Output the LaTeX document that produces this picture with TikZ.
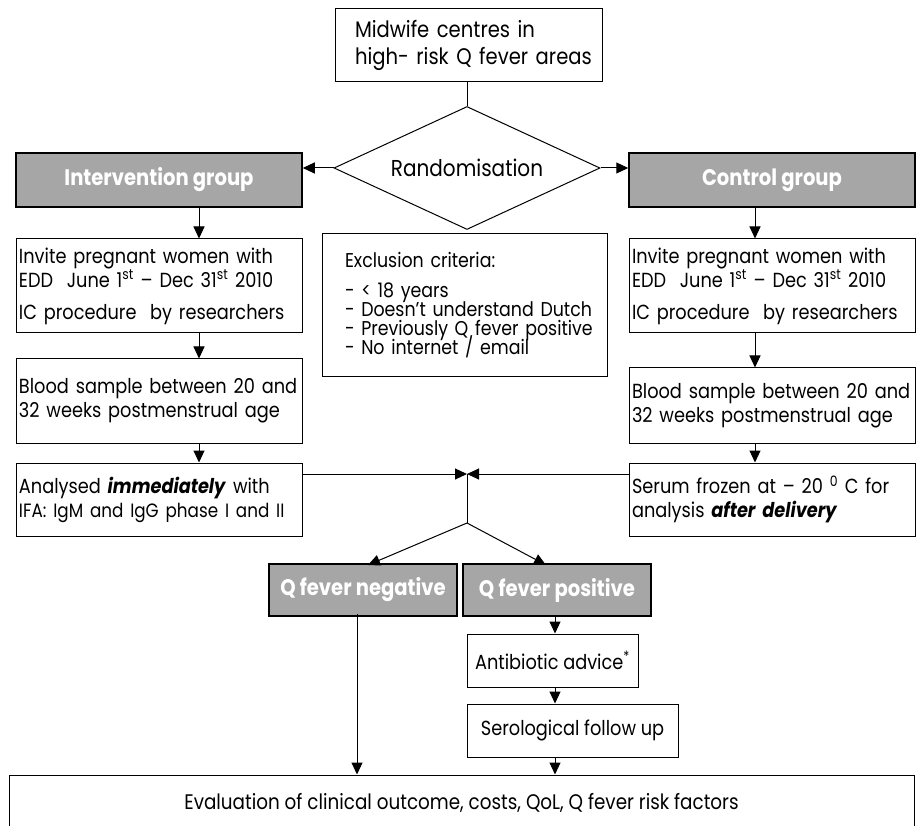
\documentclass[tikz,border=0pt]{standalone}
\usepackage{fontspec}
\setmainfont{Poppins}[FakeStretch=0.87]
\usetikzlibrary{shapes.geometric,arrows.meta}
\definecolor{boxgrey}{HTML}{A6A6A6}
\tikzset{
  box/.style = {draw, line width=1pt, rectangle, inner xsep=3pt, inner ysep=3pt,
                align=left, font=\fontsize{20.4}{24}\selectfont},
  greybox/.style = {draw, line width=1.5pt, fill=boxgrey, text=white, align=center,
                font=\fontsize{22.5}{24}\selectfont\bfseries},
  arr/.style = {line width=1pt, -{Triangle[length=12pt,width=11pt]}}
}
\begin{document}
\setlength{\lineskiplimit}{-20pt}
\setlength{\normallineskiplimit}{-20pt}
\begin{tikzpicture}[x=1pt,y=-1pt]
        \useasboundingbox (0,0) rectangle (916,826);
        %Top
        \node[box, minimum width=267, minimum height=73, text width=255, inner xsep=6,
              font=\fontsize{22.5}{27}\selectfont] (centres) at (468.5,45.5)
        {\hspace*{14pt}Midwife centres in\\\hspace*{14pt}high- risk Q fever areas};
        \node[draw, line width=1pt, diamond, aspect=2.16, minimum width=266,
              minimum height=123, inner sep=0pt, font=\fontsize{23}{26}\selectfont]
              (rand) at (467,168) {Randomisation};
        \draw[line width=1pt] (centres.south -| rand.north) -- (rand.north);
        %Groups
        \node[greybox, minimum width=286, minimum height=54] (inter) at (159,180)
        {Intervention group};
        \node[greybox, minimum width=286, minimum height=54] (contr) at (772,180)
        {Control group};
        \draw[arr] (rand.west) -- (rand.west -| inter.east);
        \draw[arr] (rand.east) -- (rand.east -| contr.west);
        \coordinate (colL) at (199,0);
        \coordinate (colR) at (755,0);
        %Invite
        \node[box, minimum width=286, minimum height=94, text width=280] (invL) at (159,286)
        {Invite pregnant women with\\
         EDD\ \ June 1\textsuperscript{st} – Dec 31\textsuperscript{st} 2010\\[8pt]
         IC procedure\ \ by researchers};
        \node[box, minimum width=286, minimum height=94, text width=280] (invR) at (772,286)
        {Invite pregnant women with\\
         EDD\ \ June 1\textsuperscript{st} – Dec 31\textsuperscript{st} 2010\\[8pt]
         IC procedure\ \ by researchers};
        \draw[arr] (inter.south -| colL) -- (invL.north -| colL);
        \draw[arr] (contr.south -| colR) -- (invR.north -| colR);
        %Exclusion
        \node[box, minimum width=285, minimum height=143, text width=263, inner xsep=11,
              font=\fontsize{20}{19}\selectfont] (excl) at (464.5,305)
        {\hspace*{12pt}Exclusion criteria:\\[11pt]
         \hspace*{12pt}- < 18 years\\
         \hspace*{12pt}- Doesn't understand Dutch\\
         \hspace*{12pt}- Previously Q fever positive\\
         \hspace*{12pt}- No internet / email};
        %Blood
        \node[box, minimum width=286, minimum height=84, text width=280] (bloodL) at (159,401)
        {Blood sample between 20 and\\32 weeks postmenstrual age};
        \node[box, minimum width=286, minimum height=75, text width=280] (bloodR) at (772,405.5)
        {Blood sample between 20 and\\32 weeks postmenstrual age};
        \draw[arr] (invL.south -| colL) -- (bloodL.north -| colL);
        \draw[arr] (invR.south -| colR) -- (bloodR.north -| colR);
        %Analysis
        \node[box, minimum width=286, minimum height=73, text width=280] (anaL) at (159,499.5)
        {Analysed \textbf{\itshape immediately} with\\
         \makebox[280pt][l]{\fontsize{19.3}{24}\selectfont IFA: IgM and IgG phase I and II}};
        \node[box, minimum width=286, minimum height=73, text width=280] (anaR) at (772,499.5)
        {Serum frozen at – 20 \textsuperscript{0} C for\\analysis \textbf{\itshape after delivery}};
        \draw[arr] (bloodL.south -| colL) -- (anaL.north -| colL);
        \draw[arr] (bloodR.south -| colR) -- (anaR.north -| colR);
        \coordinate (merge) at (467,474);
        \coordinate (split) at (467,523);
        \draw[arr] (merge -| anaL.east) -- (merge);
        \draw[arr] (merge -| anaR.west) -- (merge);
        \draw[line width=1pt] (merge) -- (split);
        %Result
        \node[greybox, minimum width=188, minimum height=52] (neg) at (363,590)
        {Q fever negative};
        \node[greybox, minimum width=188, minimum height=52] (pos) at (557,590)
        {Q fever positive};
        \draw[arr] (split) -- (368,565);
        \draw[arr] (split) -- (546,565);
        \coordinate (colN) at (357,0);
        \coordinate (colP) at (555,0);
        %Follow up
        \node[box, minimum width=171, minimum height=53] (anti) at (552.5,660.5)
        {Antibiotic advice\textsuperscript{*}};
        \node[box, minimum width=211, minimum height=53] (sero) at (572.5,730.5)
        {Serological follow up};
        \draw[arr] (pos.south -| colP) -- (anti.north -| colP);
        \draw[arr] (anti.south -| colP) -- (sero.north -| colP);
        %Evaluation
        \node[box, minimum width=905, minimum height=56, align=center,
              font=\fontsize{21.1}{23}\selectfont] (eval) at (461.5,803)
        {Evaluation of clinical outcome, costs, QoL, Q fever risk factors};
        \draw[arr] ([yshift=3pt]neg.south -| colN) -- (eval.north -| colN);
        \draw[arr] (sero.south -| colP) -- (eval.north -| colP);
\end{tikzpicture}
\end{document}
